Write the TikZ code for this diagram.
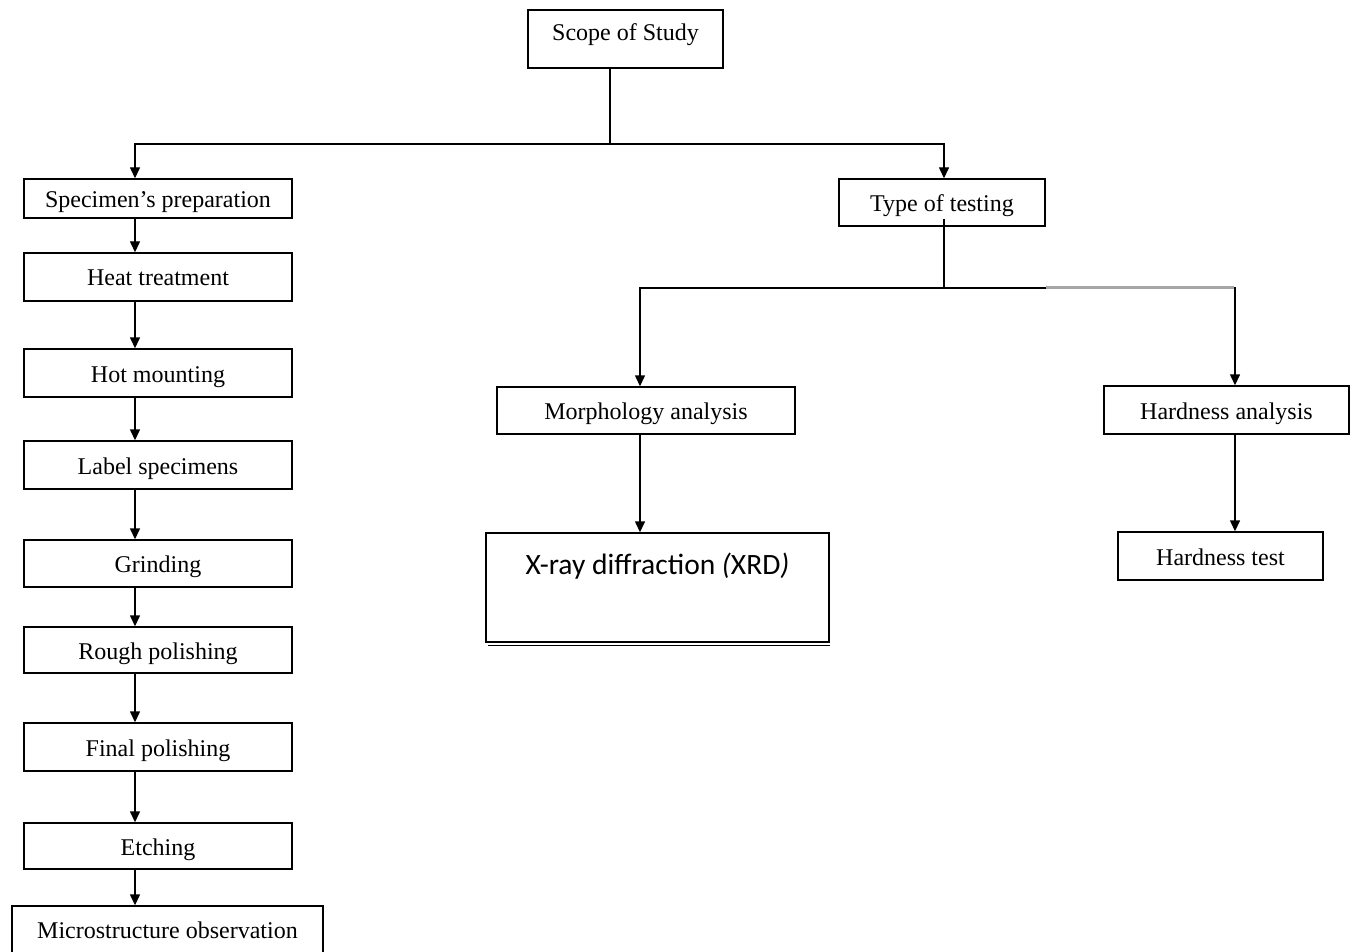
\documentclass[tikz,border=0pt]{standalone}
\usepackage{fontspec}
\setmainfont{Liberation Serif}
\newfontfamily\calib{Carlito}
\usetikzlibrary{arrows.meta}
\tikzset{
  box/.style={draw, line width=1.4pt, rectangle, inner sep=0pt, text height=20pt, text depth=2pt, font=\fontsize{24}{28}\selectfont},
  arr/.style={line width=1.4pt, -{Triangle[length=11pt,width=10pt]}},
  ln/.style={line width=1.4pt}
}
\begin{document}
\begin{tikzpicture}[x=1pt,y=-1pt]
\useasboundingbox (0,0) rectangle (1358,952);
\fill[white] (0,0) rectangle (1358,952);
% nodes
\node[box, minimum width=195, minimum height=58, text height=12pt, text depth=8pt] (scope) at (625.5,39) {Scope of Study};
\node[box, minimum width=268, minimum height=39] (spec) at (158,198.5) {Specimen’s preparation};
\node[box, minimum width=268, minimum height=48] (heat) at (158,277) {Heat treatment};
\node[box, minimum width=268, minimum height=48] (hot) at (158,373) {Hot mounting};
\node[box, minimum width=268, minimum height=48] (label) at (158,465) {Label specimens};
\node[box, minimum width=268, minimum height=47] (grind) at (158,563.5) {Grinding};
\node[box, minimum width=268, minimum height=46] (rough) at (158,650) {Rough polishing};
\node[box, minimum width=268, minimum height=48] (final) at (158,747) {Final polishing};
\node[box, minimum width=268, minimum height=46] (etch) at (158,846) {Etching};
\node[box, minimum width=311, minimum height=50, text height=16pt, text depth=2pt] (micro) at (167.5,931) {Microstructure observation};
\node[box, minimum width=206, minimum height=47] (type) at (942,202.5) {Type of testing};
\node[box, minimum width=298, minimum height=47] (morph) at (646,410.5) {Morphology analysis};
\node[box, minimum width=245, minimum height=48] (hana) at (1226.5,410) {Hardness analysis};
\node[box, minimum width=205, minimum height=48] (htest) at (1220.5,556) {Hardness test};
\node[box, minimum width=343, minimum height=109,
  label={[anchor=center, yshift=-34pt, font=\calib\fontsize{29.5}{32}\selectfont]north:X-ray diffraction \textit{(}XRD\textit{)}}] (xrd) at (657.5,587.5) {};
\draw[line width=1pt] ([xshift=3pt,yshift=-3pt]xrd.south west) -- ([yshift=-3pt]xrd.south east);
% junctions
\coordinate (j1) at (610,144);
\coordinate (j2) at (944,288);
% connectors
\draw[ln] ([xshift=-15.5pt]scope.south) -- (j1);
\draw[arr] (j1) -| ([xshift=-23pt]spec.north);
\draw[arr] (j1) -| ([xshift=2pt]type.north);
\draw[arr] ([xshift=-23pt]spec.south) -- ([xshift=-23pt]heat.north);
\draw[arr] ([xshift=-23pt]heat.south) -- ([xshift=-23pt]hot.north);
\draw[arr] ([xshift=-23pt]hot.south) -- ([xshift=-23pt]label.north);
\draw[arr] ([xshift=-23pt]label.south) -- ([xshift=-23pt]grind.north);
\draw[arr] ([xshift=-23pt]grind.south) -- ([xshift=-23pt]rough.north);
\draw[arr] ([xshift=-23pt]rough.south) -- ([xshift=-23pt]final.north);
\draw[arr] ([xshift=-23pt]final.south) -- ([xshift=-23pt]etch.north);
\draw[arr] ([xshift=-23pt]etch.south) -- ([xshift=-23pt]etch.south |- micro.north);
\draw[ln] ([xshift=2pt,yshift=8pt]type.south) -- (j2);
\draw[arr] (j2) -| ([xshift=-6pt]morph.north);
\draw[arr] (j2) -| ([xshift=8.5pt]hana.north);
\draw[line width=2.8pt, gray!70] (1046,287.7) -- (1234.3,287.7);
\draw[arr] ([xshift=-6pt]morph.south) -- ([xshift=-17.5pt]xrd.north);
\draw[arr] ([xshift=8.5pt]hana.south) -- ([xshift=14.5pt]htest.north);
\end{tikzpicture}
\end{document}
